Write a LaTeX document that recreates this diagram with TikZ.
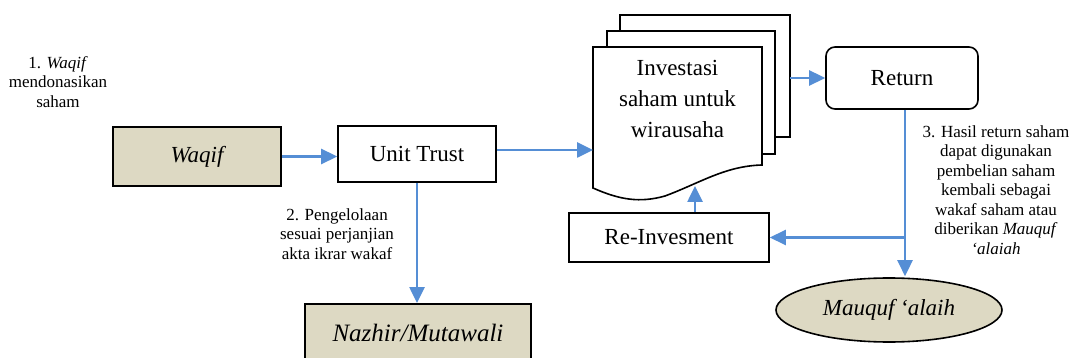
\documentclass[tikz,border=0pt]{standalone}
\usepackage{fontspec}
\setmainfont{Liberation Serif}
\usetikzlibrary{arrows.meta,shapes.geometric}
\definecolor{flow}{RGB}{85,142,213}
\definecolor{tanfill}{RGB}{221,217,195}
\begin{document}
\begin{tikzpicture}[x=1pt,y=-1pt,
  box/.style={draw=black,line width=1.6pt,fill=white,inner sep=0pt,
    font=\fontsize{23}{27}\selectfont},
  tanbox/.style={box,fill=tanfill,line width=2pt},
  page/.style={draw=black,line width=1.6pt,fill=white},
  flowarrow/.style={draw=flow,line width=2.6pt,-{Triangle[length=16pt,width=15pt]}},
  note/.style={align=center,font=\fontsize{17}{19.5}\selectfont,inner sep=0pt}]
\path[use as bounding box] (0,0) rectangle (1074,358);
\clip (0,0) rectangle (1074,358);

% main boxes
\node[tanbox,minimum width=168pt,minimum height=59pt] (waqif) at (197,156.5) {\itshape Waqif};
\node[box,minimum width=158pt,minimum height=56pt] (ut) at (417,154) {Unit Trust};
\node[tanbox,minimum width=226pt,minimum height=58pt,font=\fontsize{25}{29}\selectfont\itshape] (nazhir) at (418,333) {Nazhir/Mutawali};

% stacked document shape
\filldraw[page] (620,15) rectangle (790,137);
\filldraw[page] (607,31) rectangle (775,154);
\filldraw[page] (593,47) -- (762,47) -- (762,165)
  .. controls (725,166) and (700,183) .. (665,196)
  .. controls (640,203) and (620,200) .. (593,188) -- cycle;
\node[align=center,inner sep=0pt,font=\fontsize{23}{31}\selectfont] (doc) at (677.5,99) {Investasi\\saham untuk\\wirausaha};
\coordinate (docin) at (593,150);
\coordinate (docout) at (790,78);
\coordinate (docfoot) at (695,186);

\node[box,rounded corners=9pt,minimum width=152pt,minimum height=62pt] (ret) at (902,78) {Return};
\node[box,minimum width=200pt,minimum height=49pt] (reinv) at (669,237.5) {Re-Invesment};
\node[ellipse,draw=black,line width=1.6pt,fill=tanfill,minimum width=226pt,minimum height=64pt,
  inner sep=0pt,font=\fontsize{23}{27}\selectfont\itshape] (mauquf) at (889,310) {Mauquf ‘alaih};
\coordinate (jn) at (905,237.5);

% connectors
\draw[flowarrow] (waqif.east) -- (waqif.east -| ut.west);
\draw[flowarrow] (ut.east |- docin) -- (docin);
\draw[flowarrow] (docout) -- (docout -| ret.west);
\draw[flowarrow] (ret.south -| jn) -- ([yshift=1pt]jn |- mauquf.north);
\draw[flowarrow] (jn) -- (reinv.east);
\draw[flowarrow] (reinv.north -| docfoot) -- (docfoot);
\draw[flowarrow] (ut.south) -- (ut.south |- nazhir.north);

% step notes
\node[note] (n1) at (58,82) {1. \textit{Waqif}\\mendonasikan\\saham};
\node[note] (n2) at (337,234) {2. Pengelolaan\\sesuai perjanjian\\akta ikrar wakaf};
\node[note] (n3) at (996,190) {3. Hasil return saham\\dapat digunakan\\pembelian saham\\kembali sebagai\\wakaf saham atau\\diberikan \textit{Mauquf}\\\textit{‘alaiah}};
\end{tikzpicture}
\end{document}
